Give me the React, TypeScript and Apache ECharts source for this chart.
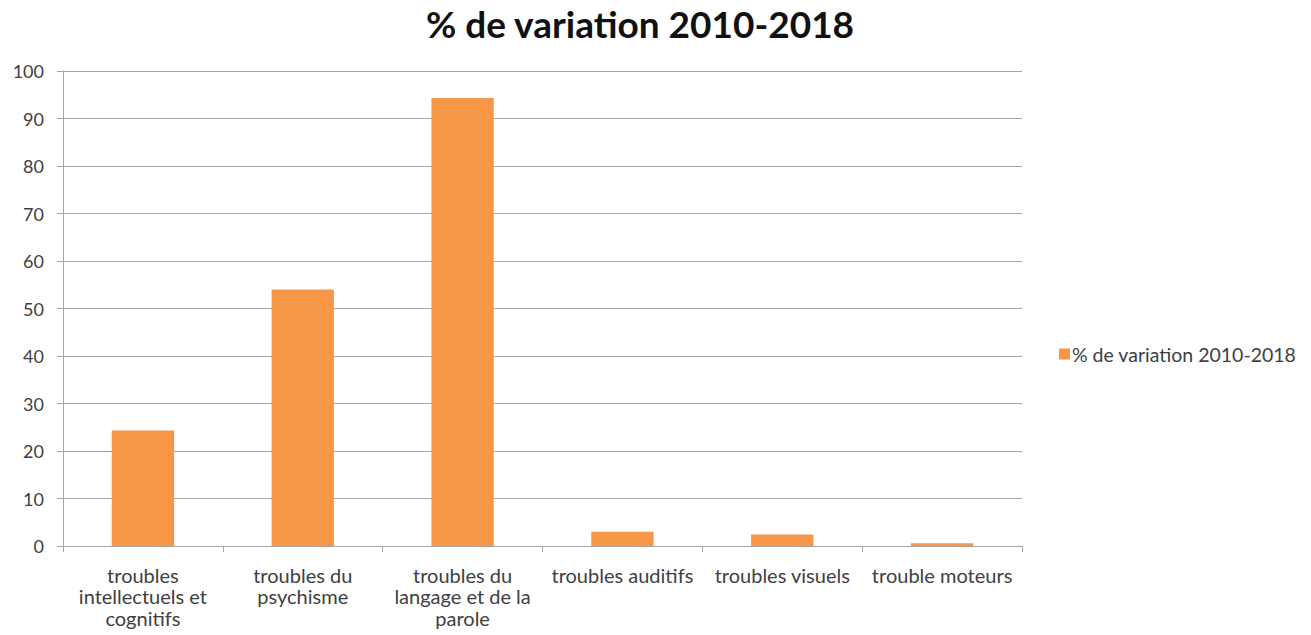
import React, { useEffect, useRef } from "react";
import * as echarts from "echarts";

const categories = [
  "troubles\nintellectuels et\ncognitifs",
  "troubles du\npsychisme",
  "troubles du\nlangage et de la\nparole",
  "troubles auditifs",
  "troubles visuels",
  "trouble moteurs",
];
const values = [24.3, 54.0, 94.3, 3.0, 2.4, 0.6];
const seriesName = "% de variation 2010-2018";
const yTicks = { min: 0, max: 100, interval: 10 };

export default function App() {
  const ref = useRef<HTMLDivElement>(null);
  useEffect(() => {
    if (!ref.current) return;
    const chart = echarts.init(ref.current, null, { renderer: "svg" });
    const font = "Lato, 'Open Sans', sans-serif";
    chart.setOption({
      animation: false,
      backgroundColor: "#ffffff",
      title: {
        text: seriesName,
        left: 635,
        top: 0,
        textAlign: "center",
        textStyle: { fontFamily: font, fontSize: 37, fontWeight: "bold", color: "#111111" },
      },
      legend: {
        data: [seriesName],
        left: 1054,
        top: 339,
        orient: "vertical",
        itemWidth: 11,
        itemHeight: 11,
        icon: "rect",
        textStyle: { fontFamily: font, fontSize: 19.5, color: "#404040", padding: [0, 0, 0, -3] },
      },
      grid: { left: 63, right: 289, top: 71, bottom: 89, containLabel: false },
      xAxis: {
        type: "category",
        data: categories,
        axisLine: { lineStyle: { color: "#a6a6a6", width: 1 } },
        axisTick: { show: true, length: 6, alignWithLabel: false, lineStyle: { color: "#a6a6a6" } },
        axisLabel: {
          interval: 0,
          margin: 18,
          fontFamily: font,
          fontSize: 20,
          lineHeight: 21.5,
          color: "#404040",
          align: "center",
        },
      },
      yAxis: {
        type: "value",
        min: yTicks.min,
        max: yTicks.max,
        interval: yTicks.interval,
        axisLine: { show: true, lineStyle: { color: "#a6a6a6", width: 1 } },
        axisTick: { show: true, length: 6, lineStyle: { color: "#a6a6a6" } },
        splitLine: { lineStyle: { color: "#a6a6a6", width: 1 } },
        axisLabel: { margin: 19, fontFamily: font, fontSize: 18, color: "#404040" },
      },
      series: [
        {
          name: seriesName,
          type: "bar",
          data: values,
          barWidth: "39%",
          itemStyle: { color: "#f79646" },
        },
      ],
    });
    return () => chart.dispose();
  }, []);
  return (
    <div
      ref={ref}
      style={{ position: "fixed", left: 0, top: 0, width: 1311, height: 635, background: "#fff" }}
    />
  );
}
